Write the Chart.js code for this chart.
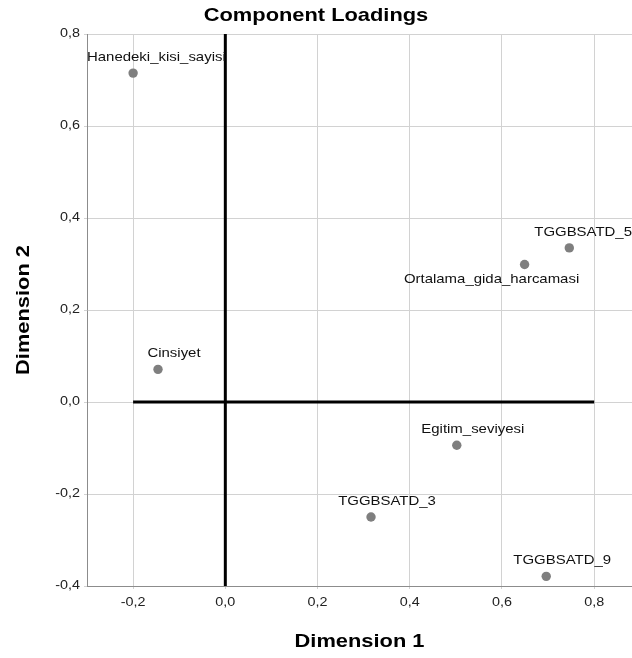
<!DOCTYPE html>
<html>
<head>
<meta charset="utf-8">
<script src="https://cdn.jsdelivr.net/npm/chart.js@4"></script>
<style>
html,body{margin:0;padding:0;background:#fff;}
#wrap{width:632px;height:658px;}
</style>
</head>
<body>
<div id="wrap"><canvas id="c" width="632" height="658"></canvas></div>
<script>
// ---- data ----
const variables = ['Hanedeki_kisi_sayisi','Cinsiyet','Ortalama_gida_harcamasi','TGGBSATD_5','Egitim_seviyesi','TGGBSATD_3','TGGBSATD_9'];
const dim1 = [-0.200, -0.146, 0.649, 0.746, 0.502, 0.316, 0.696];
const dim2 = [0.715, 0.071, 0.299, 0.335, -0.094, -0.250, -0.379];
const xTicks = [-0.2, 0.0, 0.2, 0.4, 0.6, 0.8];
const yTicks = [-0.4, -0.2, 0.0, 0.2, 0.4, 0.6, 0.8];
const chartTitle = 'Component Loadings';
const xTitle = 'Dimension 1';
const yTitle = 'Dimension 2';

const FONT = "'Liberation Sans', Arial, sans-serif";
Chart.defaults.font.family = FONT;

// the reference renders its text slightly wider than Arial; widen glyphs horizontally
const SX = 1.15;
const canvas = document.getElementById('c');
const c2d = canvas.getContext('2d');
const origFill = c2d.fillText;
c2d.fillText = function (t, x, y, mw) {
  this.save();
  this.translate(x, y);
  this.scale(SX, 1);
  if (mw === undefined) origFill.call(this, t, 0, 0);
  else origFill.call(this, t, 0, 0, mw / SX);
  this.restore();
};

const fmt = v => Number(v).toFixed(1).replace('.', ',');
const points = variables.map((n, i) => ({x: dim1[i], y: dim2[i]}));

// let the plot area run to the right edge of the canvas, as in the reference
const fullWidthPlugin = {
  id: 'fullWidth',
  afterLayout(chart) {
    const a = chart.chartArea;
    const d = chart.width - a.right;
    if (d > 0) {
      a.right += d; a.width += d;
      const x = chart.scales.x;
      x.right += d; x.width += d;
      x.configure();
    }
  }
};

const labelPlugin = {
  id: 'pointLabels',
  afterDatasetsDraw(chart) {
    const meta = chart.getDatasetMeta(2);
    const ctx = chart.ctx;
    const area = chart.chartArea;
    ctx.save();
    ctx.font = "13px " + FONT;
    ctx.fillStyle = '#111';
    ctx.textBaseline = 'middle';
    ctx.textAlign = 'left';
    meta.data.forEach((el, i) => {
      const name = variables[i];
      let dx = 16, dy = -15.5;
      if (name === 'Ortalama_gida_harcamasi') { dx = -33; dy = 14.5; }
      const w = ctx.measureText(name).width * SX;
      let left = el.x + dx - w / 2;
      if (left < area.left) left = area.left;
      if (left + w > area.right) left = area.right - w;
      ctx.fillText(name, left, el.y + dy);
    });
    ctx.restore();
  }
};

new Chart(canvas, {
  type: 'scatter',
  data: {
    datasets: [
      {
        data: [{x: 0, y: yTicks[0]}, {x: 0, y: yTicks[yTicks.length - 1]}],
        showLine: true, borderColor: '#000', borderWidth: 3, pointRadius: 0, order: 2
      },
      {
        data: [{x: xTicks[0], y: 0}, {x: xTicks[xTicks.length - 1], y: 0}],
        showLine: true, borderColor: '#000', borderWidth: 3, pointRadius: 0, order: 2
      },
      {
        data: points,
        backgroundColor: '#7f7f7f', borderColor: '#7f7f7f', borderWidth: 0,
        pointRadius: 4.7, order: 1
      }
    ]
  },
  options: {
    responsive: false,
    animation: false,
    layout: {padding: 0},
    plugins: {
      legend: {display: false},
      tooltip: {enabled: false},
      title: {
        display: true, text: chartTitle, color: '#000',
        font: {size: 19, weight: 'bold'},
        padding: {top: 4, bottom: 7.2}
      }
    },
    scales: {
      x: {
        type: 'linear', min: -0.3, max: 0.882,
        afterBuildTicks: s => { s.ticks = xTicks.map(v => ({value: v})); },
        afterFit: s => { s.height = 72; },
        ticks: {callback: v => fmt(v), color: '#222', font: {size: 12.5}, padding: 6},
        grid: {color: '#d2d2d2', lineWidth: 1, tickLength: 3},
        border: {color: '#8c8c8c', width: 1},
        title: {display: true, text: xTitle, color: '#000', font: {size: 19, weight: 'bold'}, padding: {top: 0, bottom: 4.6}}
      },
      y: {
        type: 'linear', min: -0.4, max: 0.8,
        afterBuildTicks: s => { s.ticks = yTicks.map(v => ({value: v})); },
        afterFit: s => { s.width = 87; },
        ticks: {callback: v => fmt(v), color: '#222', font: {size: 12.5}, padding: 4},
        grid: {color: '#d2d2d2', lineWidth: 1, tickLength: 3},
        border: {color: '#8c8c8c', width: 1},
        title: {display: true, text: yTitle, color: '#000', font: {size: 19, weight: 'bold'}, padding: {top: 12.6, bottom: 0}}
      }
    }
  },
  plugins: [fullWidthPlugin, labelPlugin]
});
</script>
</body>
</html>
